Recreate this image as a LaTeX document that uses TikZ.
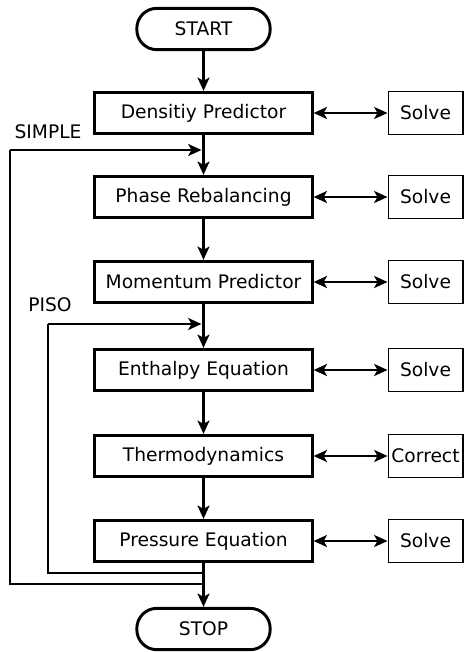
\documentclass[tikz,border=0pt]{standalone}
\usepackage{fontspec}
\setmainfont{DejaVu Sans}
\usetikzlibrary{arrows.meta}

\begin{document}
\begin{tikzpicture}
    [x=0.75pt, y=-0.75pt,
    font=\fontsize{14}{16}\selectfont,
    term/.style={draw, line width=2.2pt, rounded corners=15pt,
        minimum width=100pt, minimum height=31pt},
    stepbox/.style={draw, line width=2.2pt, minimum width=163pt, minimum height=31pt},
    solvebox/.style={draw, line width=1pt, minimum width=56pt, minimum height=32pt, inner sep=1pt},
    flow/.style={line width=1.7pt, -{Stealth[length=10pt, width=9pt, inset=2.5pt]}},
    link/.style={line width=1.7pt, {Stealth[length=10pt, width=9pt, inset=2.5pt]}-{Stealth[length=10pt, width=9pt, inset=2.5pt]}},
    loop/.style={line width=1.7pt}]

    \useasboundingbox (0,0) rectangle (464,652);

    % main column
    \node[term] (start) at (203.5,29) {START};
    \node[stepbox] (dens) at (203.5,113) {Densitiy Predictor};
    \node[stepbox] (phase) at (203.5,197) {Phase Rebalancing};
    \node[stepbox] (mom) at (203.5,282) {Momentum Predictor};
    \node[stepbox] (enth) at (203.5,370) {Enthalpy Equation};
    \node[stepbox] (thermo) at (203.5,456) {Thermodynamics};
    \node[stepbox] (press) at (203.5,541) {Pressure Equation};
    \node[term] (stop) at (203.5,629) {STOP};

    % solver boxes
    \node[solvebox] (s1) at (425.5,113) {Solve};
    \node[solvebox] (s2) at (425.5,197) {Solve};
    \node[solvebox] (s3) at (425.5,282) {Solve};
    \node[solvebox] (s4) at (425.5,370) {Solve};
    \node[solvebox] (s5) at (425.5,456) {Correct};
    \node[solvebox] (s6) at (425.5,541) {Solve};

    % loop labels
    \node (simple) at (48,132) {SIMPLE};
    \node (piso) at (50,305) {PISO};

    % loop corners
    \coordinate (simpleIn) at (203.5,150);
    \coordinate (pisoIn) at (203.5,324);
    \coordinate (simpleOut) at (203.5,584);
    \coordinate (pisoOut) at (203.5,573);

    \draw[flow] (start) -- (dens);
    \draw[flow] (dens) -- (phase);
    \draw[flow] (phase) -- (mom);
    \draw[flow] (mom) -- (enth);
    \draw[flow] (enth) -- (thermo);
    \draw[flow] (thermo) -- (press);
    \draw[flow] (press) -- (stop);

    \foreach \a/\b in {dens/s1, phase/s2, mom/s3, enth/s4, thermo/s5, press/s6}
        \draw[link] (\a) -- (\b);

    \draw[loop] (simpleOut) -| (10,150);
    \draw[flow] (10,150) -- ([xshift=-1.5pt]simpleIn);
    \draw[loop] (pisoOut) -| (48,324);
    \draw[flow] (48,324) -- ([xshift=-1.5pt]pisoIn);

\end{tikzpicture}
\end{document}
